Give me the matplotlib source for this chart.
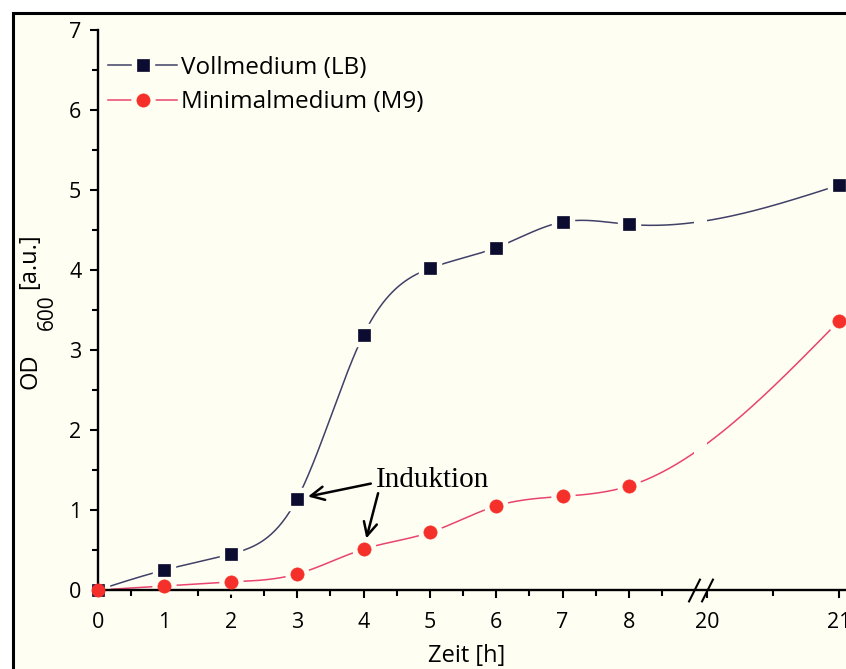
import numpy as np
import matplotlib
matplotlib.use("Agg")
import matplotlib.pyplot as plt
from matplotlib.patches import Rectangle
from matplotlib.legend_handler import HandlerTuple

# data
zeit = [0, 1, 2, 3, 4, 5, 6, 7, 8, 21]
od_lb = [0.0, 0.25, 0.45, 1.14, 3.19, 4.02, 4.28, 4.60, 4.57, 5.06]
od_m9 = [0.0, 0.05, 0.10, 0.20, 0.51, 0.72, 1.05, 1.17, 1.30, 3.36]
xticks = [0, 1, 2, 3, 4, 5, 6, 7, 8, 20, 21]
xminor = [0.5, 1.5, 2.5, 3.5, 4.5, 5.5, 6.5, 7.5, 8.5, 20.5]
yticks = [0, 1, 2, 3, 4, 5, 6, 7]

bg = '#fffef2'
W, H = 846, 669
plt.rcParams['font.family'] = ['Open Sans', 'DejaVu Sans']

### broken time axis: 0..8.98 linear, 8.98..20 squeezed, 20.. stretched
h_pts = np.array([-100.0, 8.98, 20.0, 120.0])
t_pts = np.array([-100.0, 8.98, 9.175, 9.175 + 100 * 1.985])

def fwd(h):
    return np.interp(h, h_pts, t_pts)

def inv(t):
    return np.interp(t, t_pts, h_pts)

def spline(x, y, xs):
    # natural cubic spline
    x = np.asarray(x, float); y = np.asarray(y, float)
    n = len(x); d = np.diff(x)
    A = np.zeros((n, n)); b = np.zeros(n)
    A[0, 0] = 1; A[-1, -1] = 1
    for i in range(1, n - 1):
        A[i, i - 1] = d[i - 1]
        A[i, i] = 2 * (d[i - 1] + d[i])
        A[i, i + 1] = d[i]
        b[i] = 3 * ((y[i + 1] - y[i]) / d[i] - (y[i] - y[i - 1]) / d[i - 1])
    c = np.linalg.solve(A, b)
    bb = (y[1:] - y[:-1]) / d - d * (2 * c[:-1] + c[1:]) / 3
    dd = (c[1:] - c[:-1]) / (3 * d)
    k = np.clip(np.searchsorted(x, xs) - 1, 0, n - 2)
    u = xs - x[k]
    return y[k] + bb[k] * u + c[k] * u ** 2 + dd[k] * u ** 3

def px(x, y):
    # pixel position -> figure fraction
    return x / W, 1 - y / H

fig = plt.figure(figsize=(W / 100, H / 100), dpi=100)
fig.patch.set_facecolor('white')
fig.patches.append(Rectangle((13 / W, -0.05), 1.1, 1 - 13 / H + 0.05,
                             transform=fig.transFigure, facecolor=bg,
                             edgecolor='black', lw=2.2, zorder=-10))

ax = fig.add_axes([98 / W, 79 / H, 748 / W, 560 / H])
ax.set_facecolor('none')
ax.set_xscale('function', functions=(fwd, inv))

t_data = fwd(np.array(zeit, float))
ts = np.linspace(0, t_data[-1], 600)
hs = inv(ts)

handles = []
for ys, lc, mc, mk in [(od_lb, '#404068', '#0c0c30', 's'),
                       (od_m9, '#e8446e', '#f5302a', 'o')]:
    ln, = ax.plot(hs, spline(t_data, ys, ts), color=lc, lw=1.1, zorder=2)
    gap, = ax.plot(zeit, ys, ls='none', marker=mk, ms=16.5, mfc=bg, mec=bg,
                   zorder=2.1, clip_on=False)
    mrk, = ax.plot(zeit, ys, ls='none', marker=mk,
                   ms=8.6 if mk == 's' else 9.5, mfc=mc, mec=mc, mew=0.5,
                   zorder=3, clip_on=False)
    handles.append((ln, gap, mrk))

# break on the time axis
ax.axvspan(8.99, 19.99, color=bg, zorder=2.2, lw=0)
ax.plot([8.98, 20.0], [0, 0], ls='none', marker=[(-1, -2), (1, 2)], ms=17,
        mew=1.5, color='black', clip_on=False, zorder=4)

ax.set_xlim(0, 21.055)
ax.set_ylim(0, 7)
ax.set_xticks(xticks)
ax.set_xticks(xminor, minor=True)
ax.set_yticks(yticks)
ax.set_yticks(np.arange(0.5, 7, 1), minor=True)
ax.spines['top'].set_visible(False)
ax.spines['right'].set_visible(False)
for s in ['left', 'bottom']:
    ax.spines[s].set_linewidth(1.7)
ax.tick_params(which='major', length=6, width=1.5, labelsize=15.5)
ax.tick_params(which='minor', length=4, width=1.5)
ax.tick_params(axis='x', which='major', pad=10)
ax.tick_params(axis='y', which='major', pad=6)

fig.text(*px(467, 656), 'Zeit [h]', ha='center', va='center', fontsize=17)
# y label: OD with subscript 600
fig.text(*px(31, 371), 'OD', ha='center', va='center', rotation=90, fontsize=17)
fig.text(*px(47, 312), '600', ha='center', va='center', rotation=90, fontsize=15)
fig.text(*px(29, 261), '[a.u.]', ha='center', va='center', rotation=90, fontsize=17)

leg = ax.legend(handles, ['Vollmedium (LB)', 'Minimalmedium (M9)'],
                handler_map={tuple: HandlerTuple(ndivide=1)},
                loc='upper left', bbox_to_anchor=px(108, 56),
                bbox_transform=fig.transFigure, frameon=False, fontsize=17.5,
                handlelength=2.85, handletextpad=0.15, labelspacing=0.43,
                borderpad=0, borderaxespad=0)

ax.text(4.18, 1.38, 'Induktion', family=['Liberation Serif', 'DejaVu Serif'],
        fontsize=21, ha='left', va='center')
arrow = dict(arrowstyle='->,head_length=0.6,head_width=0.3', lw=1.8,
             color='black', shrinkA=0, shrinkB=8, mutation_scale=16)
ax.annotate('', xy=(3, 1.14), xytext=(4.11, 1.33), arrowprops=arrow)
ax.annotate('', xy=(4, 0.51), xytext=(4.22, 1.21), arrowprops=arrow)

fig.savefig('out.png', dpi=100, facecolor='white')
